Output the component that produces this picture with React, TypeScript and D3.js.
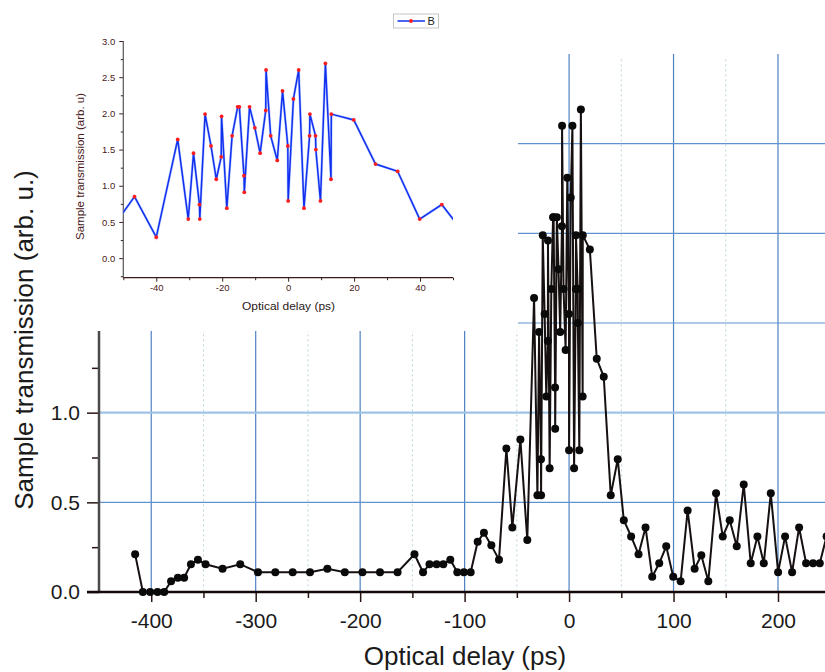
import { useEffect, useRef } from "react";
import * as d3 from "d3";

// optical delay (ps) and sample transmission (arb. u.)
const delay = [
  -415.4, -408, -401, -394, -387.6, -381, -374.5, -368.5, -362, -355.3, -348,
  -331.7, -314.8, -297.8, -281.2, -264.6, -248, -231.4, -214.7, -197.8, -181,
  -164.2, -148, -139.8, -133.6, -126.8, -120.4, -113.7, -107, -100.7, -94.2,
  -87.5, -81.5, -74.4, -67.1, -60, -54.3, -46.6, -40, -33.5, -30.3, -28.7,
  -26.9, -26.8, -25.2, -23.4, -21.8, -20.3, -20.2, -18.6, -17, -15.3, -14.8,
  -13.4, -13.3, -11.7, -10.1, -8.5, -6.8, -6.7, -5.3, -3.3, -1.7, -0.1, 0, 1.6,
  3.2, 4.8, 6.5, 6.6, 8.3, 8.4, 9.8, 11.3, 13, 13.1, 19.9, 26.5, 33.2, 39.9,
  46.6, 52.4, 59.4, 66.5, 73.2, 79.6, 86.3, 93, 99.7, 106.8, 113.5, 120.2,
  126.6, 133.3, 140.7, 147.1, 153.8, 160.5, 167.2, 173.9, 180.3, 186.4, 193.1,
  200.1, 206.8, 213.5, 220.2, 226.9, 233.6, 240, 246.5,
];
const transmission = [
  0.21, 0, 0, 0, 0, 0.06, 0.08, 0.08, 0.155, 0.18, 0.155,
  0.13, 0.155, 0.11, 0.11, 0.11, 0.11, 0.13, 0.11, 0.11, 0.11,
  0.11, 0.21, 0.11, 0.155, 0.155, 0.155, 0.18, 0.11, 0.11, 0.11,
  0.28, 0.33, 0.26, 0.18, 0.8, 0.36, 0.85, 0.29, 1.64, 0.54, 1.45,
  0.74, 0.54, 1.99, 1.55, 1.09, 1.4, 1.96, 0.69, 1.69, 2.09, 2.09,
  1.14, 0.91, 2.09, 1.8, 1.45, 2.04, 2.6, 1.69, 1.35, 2.31, 1.55, 0.79, 2.2,
  2.6, 0.69, 1.69, 1.99, 1.69, 1.5, 0.79, 2.69, 1.09, 1.99, 1.91, 1.3, 1.2, 0.54,
  0.74, 0.4, 0.31, 0.21, 0.36, 0.085, 0.16, 0.255, 0.085, 0.06, 0.455, 0.13,
  0.205, 0.06, 0.55, 0.31, 0.4, 0.255, 0.6, 0.16, 0.31, 0.16, 0.55,
  0.11, 0.31, 0.11, 0.36, 0.16, 0.16, 0.16, 0.31,
];

const mainXTicks = [-400, -300, -200, -100, 0, 100, 200];
const mainXMinor = [-350, -250, -150, -50, 50, 150];
const mainYTicks = [0, 0.5, 1];
const mainYMinor = [0.25, 0.75, 1.25];
const mainHGrid = [0.5, 1, 1.5, 2, 2.5];

const insetXTicks = [-40, -20, 0, 20, 40];
const insetXMinor = [-50, -30, -10, 10, 30, 50];
const insetYTicks = [0, 0.5, 1, 1.5, 2, 2.5, 3];
const insetYMinor = [-0.25, 0.25, 0.75, 1.25, 1.75, 2.25, 2.75];

const W = 825;
const H = 672;
const FONT = "'Liberation Sans', Arial, sans-serif";

const App = () => {
  const ref = useRef<SVGSVGElement>(null);

  useEffect(() => {
    const svg = d3.select(ref.current);
    svg.selectAll("*").remove();
    const pts = delay.map((d, i) => ({ x: d, y: transmission[i] }));

    // ---------- main chart ----------
    const x = d3.scaleLinear().domain([-450, 245]).range([99, 825]);
    const y = d3.scaleLinear().domain([0, 3]).range([592, 54]);

    const defs = svg.append("defs");
    defs
      .append("clipPath")
      .attr("id", "main-clip")
      .append("rect")
      .attr("x", 99)
      .attr("y", 40)
      .attr("width", 740)
      .attr("height", 560);

    const grid = svg.append("g");
    grid
      .selectAll(".vminor")
      .data(mainXMinor)
      .enter()
      .append("line")
      .attr("x1", (d) => x(d))
      .attr("x2", (d) => x(d))
      .attr("y1", y(2.97))
      .attr("y2", 590)
      .attr("stroke", "#bcd3d8")
      .attr("stroke-width", 1)
      .attr("stroke-dasharray", "2,3");
    grid
      .selectAll(".vmajor")
      .data(mainXTicks)
      .enter()
      .append("line")
      .attr("x1", (d) => x(d))
      .attr("x2", (d) => x(d))
      .attr("y1", y(3))
      .attr("y2", y(0))
      .attr("stroke", "#4f82c2")
      .attr("stroke-width", 1.2);
    grid
      .selectAll(".hgrid")
      .data(mainHGrid)
      .enter()
      .append("line")
      .attr("x1", x(-450))
      .attr("x2", W)
      .attr("y1", (d) => y(d))
      .attr("y2", (d) => y(d))
      .attr("stroke", (d) => (d === 1 ? "#9fc3e7" : "#5f92cf"))
      .attr("stroke-width", (d) => (d === 1 ? 2.2 : 1.2));

    // axes
    const xAxis = svg
      .append("g")
      .attr("transform", `translate(0,${y(0)})`)
      .call(
        d3
          .axisBottom(x)
          .tickValues(mainXTicks)
          .tickSize(10)
          .tickPadding(11)
          .tickFormat((d) => String(d))
      );
    const xMinor = svg
      .append("g")
      .attr("transform", `translate(0,${y(0)})`)
      .call(d3.axisBottom(x).tickValues(mainXMinor).tickSize(6).tickFormat(() => ""));
    const yAxis = svg
      .append("g")
      .attr("transform", `translate(${x(-450)},0)`)
      .call(
        d3
          .axisLeft(y)
          .tickValues(mainYTicks)
          .tickSize(12)
          .tickPadding(7)
          .tickFormat(d3.format(".1f"))
      );
    const yMinor = svg
      .append("g")
      .attr("transform", `translate(${x(-450)},0)`)
      .call(d3.axisLeft(y).tickValues(mainYMinor).tickSize(7).tickFormat(() => ""));

    [xAxis, xMinor, yAxis, yMinor].forEach((g) => {
      g.select(".domain").remove();
      g.selectAll(".tick line").attr("stroke", "#2a1414").attr("stroke-width", 1.5);
      g.selectAll("text")
        .attr("font-family", FONT)
        .attr("font-size", 21)
        .attr("fill", "#1a1a1a");
    });

    svg
      .append("line")
      .attr("x1", x(-450))
      .attr("x2", x(-450))
      .attr("y1", y(3))
      .attr("y2", y(0) + 1)
      .attr("stroke", "#4a4a4a")
      .attr("stroke-width", 2.5);
    svg
      .append("line")
      .attr("x1", x(-450) - 12)
      .attr("x2", W)
      .attr("y1", y(0))
      .attr("y2", y(0))
      .attr("stroke", "#140808")
      .attr("stroke-width", 2.5);

    // data
    const line = d3
      .line<{ x: number; y: number }>()
      .x((d) => x(d.x))
      .y((d) => y(d.y));
    const plot = svg.append("g").attr("clip-path", "url(#main-clip)");
    plot
      .append("path")
      .datum(pts)
      .attr("d", line)
      .attr("fill", "none")
      .attr("stroke", "#161010")
      .attr("stroke-width", 2);
    plot
      .selectAll(".dot")
      .data(pts)
      .enter()
      .append("circle")
      .attr("cx", (d) => x(d.x))
      .attr("cy", (d) => y(d.y))
      .attr("r", 4)
      .attr("fill", "#0a0a0a");

    // titles
    svg
      .append("text")
      .attr("x", 465)
      .attr("y", 665)
      .attr("text-anchor", "middle")
      .attr("font-family", FONT)
      .attr("font-size", 26)
      .attr("fill", "#1a1a1a")
      .text("Optical delay (ps)");
    svg
      .append("text")
      .attr("transform", "translate(33,340) rotate(-90)")
      .attr("text-anchor", "middle")
      .attr("font-family", FONT)
      .attr("font-size", 26)
      .attr("fill", "#1a1a1a")
      .text("Sample transmission (arb. u.)");

    // ---------- inset ----------
    const inset = svg.append("g");
    inset
      .append("rect")
      .attr("x", 62)
      .attr("y", 0)
      .attr("width", 518 - 62)
      .attr("height", 331)
      .attr("fill", "#ffffff");

    const ix = d3.scaleLinear().domain([-50, 50]).range([123.3, 453]);
    const iy = d3.scaleLinear().domain([-0.27, 3]).range([277.7, 41]);

    defs
      .append("clipPath")
      .attr("id", "inset-clip")
      .append("rect")
      .attr("x", ix(-50))
      .attr("y", iy(3) - 3)
      .attr("width", ix(50) - ix(-50))
      .attr("height", iy(-0.27) - iy(3) + 3);

    const ixAxis = inset
      .append("g")
      .attr("transform", `translate(0,${iy(-0.27)})`)
      .call(
        d3
          .axisBottom(ix)
          .tickValues(insetXTicks)
          .tickSize(4)
          .tickPadding(3)
          .tickFormat((d) => String(d))
      );
    const ixMinor = inset
      .append("g")
      .attr("transform", `translate(0,${iy(-0.27)})`)
      .call(d3.axisBottom(ix).tickValues(insetXMinor).tickSize(2.5).tickFormat(() => ""));
    const iyAxis = inset
      .append("g")
      .attr("transform", `translate(${ix(-50)},0)`)
      .call(
        d3
          .axisLeft(iy)
          .tickValues(insetYTicks)
          .tickSize(4)
          .tickPadding(4)
          .tickFormat(d3.format(".1f"))
      );
    const iyMinor = inset
      .append("g")
      .attr("transform", `translate(${ix(-50)},0)`)
      .call(d3.axisLeft(iy).tickValues(insetYMinor).tickSize(2.5).tickFormat(() => ""));

    [ixAxis, ixMinor, iyAxis, iyMinor].forEach((g) => {
      g.select(".domain").remove();
      g.selectAll(".tick line").attr("stroke", "#3a2020").attr("stroke-width", 1);
      g.selectAll("text")
        .attr("font-family", FONT)
        .attr("font-size", 9.5)
        .attr("fill", "#4a2020");
    });

    inset
      .append("line")
      .attr("x1", ix(-50))
      .attr("x2", ix(-50))
      .attr("y1", iy(3))
      .attr("y2", iy(-0.27))
      .attr("stroke", "#555")
      .attr("stroke-width", 1.2);
    inset
      .append("line")
      .attr("x1", ix(-50))
      .attr("x2", ix(50))
      .attr("y1", iy(-0.27))
      .attr("y2", iy(-0.27))
      .attr("stroke", "#3a1a1a")
      .attr("stroke-width", 1.2);

    const iline = d3
      .line<{ x: number; y: number }>()
      .x((d) => ix(d.x))
      .y((d) => iy(d.y));
    const iplot = inset.append("g").attr("clip-path", "url(#inset-clip)");
    const near = pts.filter((d) => d.x > -70 && d.x < 70);
    iplot
      .append("path")
      .datum(near)
      .attr("d", iline)
      .attr("fill", "none")
      .attr("stroke", "#8fa8ff")
      .attr("stroke-width", 2.6)
      .attr("stroke-opacity", 0.6);
    iplot
      .append("path")
      .datum(near)
      .attr("d", iline)
      .attr("fill", "none")
      .attr("stroke", "#1030f0")
      .attr("stroke-width", 1.5);
    iplot
      .selectAll(".idot")
      .data(near.filter((d) => d.x > -50 && d.x < 50))
      .enter()
      .append("circle")
      .attr("cx", (d) => ix(d.x))
      .attr("cy", (d) => iy(d.y))
      .attr("r", 1.9)
      .attr("fill", "#ff1c1c");

    inset
      .append("text")
      .attr("x", 288.5)
      .attr("y", 310)
      .attr("text-anchor", "middle")
      .attr("font-family", FONT)
      .attr("font-size", 10.5)
      .attr("textLength", 93)
      .attr("lengthAdjust", "spacingAndGlyphs")
      .attr("fill", "#2a2020")
      .text("Optical delay (ps)");
    inset
      .append("text")
      .attr("transform", "translate(84,166.5) rotate(-90)")
      .attr("text-anchor", "middle")
      .attr("font-family", FONT)
      .attr("font-size", 10)
      .attr("textLength", 147)
      .attr("lengthAdjust", "spacingAndGlyphs")
      .attr("fill", "#4a1818")
      .text("Sample transmission (arb. u)");

    // legend
    const leg = inset.append("g");
    leg
      .append("rect")
      .attr("x", 393.5)
      .attr("y", 14)
      .attr("width", 45)
      .attr("height", 14)
      .attr("fill", "#fff")
      .attr("stroke", "#c4c4c4");
    leg
      .append("line")
      .attr("x1", 397.5)
      .attr("x2", 425)
      .attr("y1", 21)
      .attr("y2", 21)
      .attr("stroke", "#1030f0")
      .attr("stroke-width", 1.5);
    leg
      .append("circle")
      .attr("cx", 411)
      .attr("cy", 21)
      .attr("r", 1.9)
      .attr("fill", "#ff1c1c");
    leg
      .append("text")
      .attr("x", 427.5)
      .attr("y", 25)
      .attr("font-family", FONT)
      .attr("font-size", 11)
      .attr("fill", "#222")
      .text("B");
  }, []);

  return (
    <svg
      ref={ref}
      width={W}
      height={H}
      style={{ position: "absolute", left: 0, top: 0, background: "#fff" }}
    />
  );
};

export default App;
